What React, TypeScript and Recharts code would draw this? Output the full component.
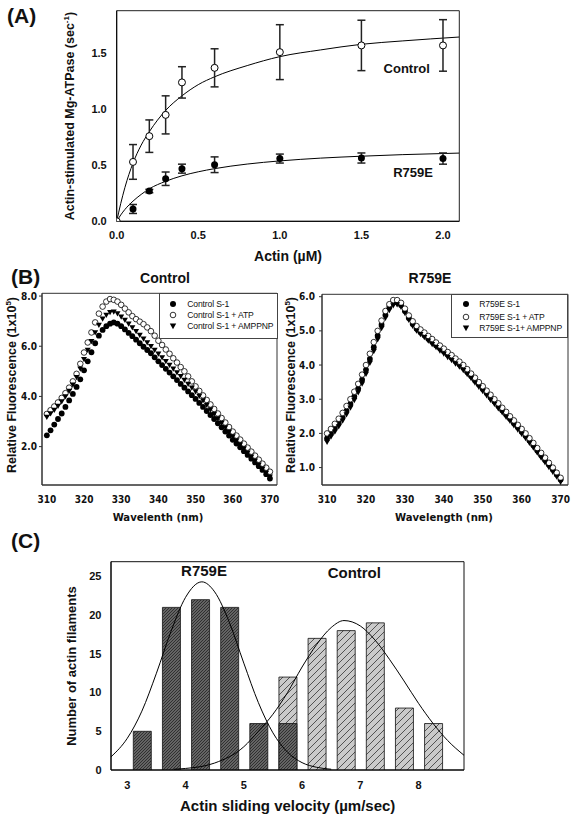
import React from "react";
import { ComposedChart, Line, Scatter, Bar, XAxis, YAxis, ErrorBar, ReferenceArea } from "recharts";

// ---------- (A) actin-activated Mg-ATPase ----------
const actinUM = [0, 0.1, 0.2, 0.3, 0.4, 0.6, 1.0, 1.5, 2.0];
const atpControl = [0, 0.53, 0.76, 0.95, 1.24, 1.37, 1.51, 1.57, 1.57];
const atpControlErr = [0, 0.155, 0.145, 0.17, 0.14, 0.17, 0.245, 0.225, 0.23];
const atpR759E = [0, 0.11, 0.27, 0.38, 0.47, 0.505, 0.56, 0.565, 0.56];
const atpR759EErr = [0, 0.04, 0.015, 0.06, 0.04, 0.07, 0.04, 0.045, 0.05];

// fitted curves
const fitX = [0, 0.025, 0.05, 0.1, 0.15, 0.2, 0.3, 0.4, 0.5, 0.6, 0.8, 1.0, 1.25, 1.5, 1.75, 2.1];
const fitControl = [0, 0.16, 0.3, 0.52, 0.68, 0.8, 0.99, 1.12, 1.22, 1.29, 1.39, 1.47, 1.53, 1.58, 1.61, 1.645];
const fitR759E = [0, 0.057, 0.105, 0.18, 0.24, 0.29, 0.357, 0.406, 0.442, 0.47, 0.511, 0.539, 0.564, 0.581, 0.595, 0.609];

// ---------- (B) intrinsic fluorescence ----------
const wavelength = [
  310, 311, 312, 313, 314, 315, 316, 317, 318, 319,
  320, 321, 322, 323, 324, 325, 326, 327, 328, 329,
  330, 331, 332, 333, 334, 335, 336, 337, 338, 339,
  340, 341, 342, 343, 344, 345, 346, 347, 348, 349,
  350, 351, 352, 353, 354, 355, 356, 357, 358, 359,
  360, 361, 362, 363, 364, 365, 366, 367, 368, 369, 370,
];
const ctlS1 = [
  2.45, 2.65, 2.88, 3.1, 3.32, 3.58, 3.84, 4.1, 4.38, 4.68,
  5.04, 5.4, 5.76, 6.12, 6.42, 6.65, 6.8, 6.9, 6.95, 6.9,
  6.8, 6.67, 6.53, 6.4, 6.26, 6.12, 5.98, 5.85, 5.72, 5.56,
  5.4, 5.25, 5.1, 4.95, 4.8, 4.65, 4.5, 4.35, 4.2, 4.05,
  3.9, 3.74, 3.58, 3.42, 3.26, 3.1, 2.93, 2.77, 2.6, 2.44,
  2.27, 2.12, 1.97, 1.82, 1.67, 1.52, 1.37, 1.22, 1.07, 0.9, 0.73,
];
const ctlATP = [
  3.3, 3.45, 3.6, 3.76, 3.94, 4.13, 4.35, 4.6, 4.9, 5.3,
  5.75, 6.15, 6.55, 6.95, 7.3, 7.58, 7.78, 7.88, 7.85, 7.78,
  7.65, 7.5, 7.35, 7.2, 7.08, 6.98, 6.88, 6.75, 6.6, 6.42,
  6.22, 6.05, 5.87, 5.7, 5.52, 5.35, 5.17, 5.0, 4.8, 4.6,
  4.4, 4.22, 4.04, 3.86, 3.68, 3.5, 3.32, 3.14, 2.96, 2.78,
  2.6, 2.44, 2.28, 2.12, 1.96, 1.8, 1.64, 1.48, 1.32, 1.16, 1.0,
];
const ctlAMPPNP = [
  3.18, 3.32, 3.46, 3.62, 3.8, 4.0, 4.22, 4.47, 4.76, 5.1,
  5.48, 5.85, 6.2, 6.55, 6.85, 7.1, 7.25, 7.35, 7.37, 7.3,
  7.18, 7.05, 6.9, 6.75, 6.6, 6.45, 6.3, 6.15, 6.0, 5.85,
  5.7, 5.55, 5.4, 5.25, 5.1, 4.95, 4.8, 4.65, 4.5, 4.35,
  4.2, 4.02, 3.84, 3.66, 3.48, 3.3, 3.12, 2.94, 2.76, 2.58,
  2.4, 2.24, 2.08, 1.92, 1.76, 1.6, 1.44, 1.28, 1.12, 0.96, 0.8,
];
const mutS1 = [
  1.85, 2.0, 2.15, 2.3, 2.47, 2.66, 2.86, 3.08, 3.31, 3.57,
  3.86, 4.18, 4.52, 4.86, 5.18, 5.47, 5.7, 5.83, 5.84, 5.76,
  5.58, 5.38, 5.2, 5.06, 4.96, 4.87, 4.77, 4.68, 4.58, 4.49,
  4.4, 4.3, 4.21, 4.11, 4.02, 3.92, 3.8, 3.68, 3.55, 3.43,
  3.3, 3.18, 3.05, 2.93, 2.8, 2.68, 2.55, 2.43, 2.3, 2.18,
  2.05, 1.93, 1.79, 1.65, 1.5, 1.36, 1.22, 1.08, 0.94, 0.8, 0.65,
];
const mutATP = [
  2.0, 2.13, 2.28, 2.43, 2.6, 2.8, 3.0, 3.22, 3.45, 3.72,
  4.0, 4.33, 4.67, 5.0, 5.3, 5.58, 5.78, 5.9, 5.9, 5.82,
  5.65, 5.45, 5.28, 5.14, 5.04, 4.95, 4.85, 4.76, 4.66, 4.57,
  4.48, 4.38, 4.29, 4.19, 4.1, 4.0, 3.88, 3.75, 3.63, 3.5,
  3.38, 3.25, 3.13, 3.0, 2.88, 2.75, 2.63, 2.5, 2.38, 2.25,
  2.13, 2.0, 1.86, 1.72, 1.57, 1.43, 1.29, 1.14, 1.0, 0.85, 0.7,
];
const mutAMPPNP = [
  1.75, 1.9, 2.05, 2.2, 2.37, 2.55, 2.75, 2.97, 3.2, 3.45,
  3.74, 4.06, 4.4, 4.75, 5.08, 5.38, 5.6, 5.74, 5.77, 5.7,
  5.52, 5.32, 5.14, 5.0, 4.9, 4.81, 4.71, 4.61, 4.52, 4.42,
  4.33, 4.23, 4.14, 4.04, 3.95, 3.85, 3.73, 3.61, 3.48, 3.36,
  3.23, 3.11, 2.98, 2.86, 2.73, 2.61, 2.48, 2.36, 2.23, 2.11,
  1.98, 1.86, 1.72, 1.58, 1.43, 1.29, 1.15, 1.01, 0.87, 0.73, 0.58,
];

// ---------- (C) sliding velocity histogram ----------
const velocityBins = [3.25, 3.75, 4.25, 4.75, 5.25, 5.75, 6.25, 6.75, 7.25, 7.75, 8.25];
const countR759E = [5, 21, 22, 21, 6, 6, null, null, null, null, null];
const countControl = [null, null, null, null, null, 12, 17, 18, 19, 8, 6];
const gaussR759EX = [2.72, 3.0, 3.25, 3.5, 3.75, 4.0, 4.28, 4.5, 4.75, 5.0, 5.25, 5.5, 5.75, 6.0, 6.25, 6.5];
const gaussR759EY = [1.7, 4.1, 7.6, 12.5, 17.9, 22.3, 24.3, 23.0, 19.1, 13.8, 8.7, 4.8, 2.3, 0.95, 0.35, 0.1];
const gaussControlX = [3.8, 4.0, 4.5, 5.0, 5.25, 5.5, 5.75, 6.0, 6.25, 6.5, 6.72, 7.0, 7.25, 7.5, 7.75, 8.0, 8.25, 8.5, 8.78];
const gaussControlY = [0.1, 0.2, 0.9, 3.0, 5.0, 7.2, 10.0, 13.3, 16.2, 18.4, 19.3, 18.6, 16.8, 14.3, 11.5, 8.6, 6.0, 3.8, 1.9];

const FONT = "'Liberation Sans', Arial, sans-serif";
const NARROW = "'Liberation Sans Narrow', 'DejaVu Sans Condensed', 'Liberation Sans', sans-serif";

function T({ x, y, size, children, rot = false, weight = 700, family = FONT, align = "center", ls = 0 }: any) {
  const tx = align === "center" ? "-50%" : align === "left" ? "0%" : "-100%";
  return (
    <div
      style={{
        position: "absolute",
        left: x,
        top: y,
        transform: `translate(${tx}, -50%)${rot ? " rotate(-90deg)" : ""}`,
        whiteSpace: "nowrap",
        fontSize: size,
        fontWeight: weight,
        fontFamily: family,
        letterSpacing: ls,
        lineHeight: 1,
        color: "#111",
      }}
    >
      {children}
    </div>
  );
}

const openDot = (r: number, sw: number) => (p: any) => (
  <circle cx={p.cx} cy={p.cy} r={r} fill="#fff" stroke="#000" strokeWidth={sw} />
);
const fullDot = (r: number) => (p: any) => <circle cx={p.cx} cy={p.cy} r={r} fill="#000" />;
const triDown = (s: number) => (p: any) => (
  <path d={`M${p.cx - s},${p.cy - s * 0.75} L${p.cx + s},${p.cy - s * 0.75} L${p.cx},${p.cy + s} Z`} fill="#000" />
);

function PanelA() {
  const ctl = actinUM.map((x, i) => ({ x, y: atpControl[i], err: atpControlErr[i] }));
  const mut = actinUM.map((x, i) => ({ x, y: atpR759E[i], err: atpR759EErr[i] }));
  const fitC = fitX.map((x, i) => ({ x, y: fitControl[i] }));
  const fitM = fitX.map((x, i) => ({ x, y: fitR759E[i] }));
  const tick = { fontSize: 11, fontWeight: 700, fill: "#111", fontFamily: FONT };
  return (
    <div style={{ position: "absolute", left: 0, top: 0 }}>
      <ComposedChart width={480} height={250} margin={{ top: 10.7, right: 20.7, left: 0, bottom: 0 }}>
        <XAxis type="number" dataKey="x" domain={[0, 2.1]} allowDataOverflow ticks={[0, 0.5, 1, 1.5, 2]} interval={0}
          tickFormatter={(v: number) => v.toFixed(1)} tick={tick} tickLine={false} tickSize={6} tickMargin={4}
          axisLine={{ stroke: "#000" }} height={28.7} />
        <YAxis type="number" dataKey="y" domain={[0, 1.88]} allowDataOverflow ticks={[0, 0.5, 1, 1.5]} interval={0}
          tickFormatter={(v: number) => v.toFixed(1)} tick={tick} tickLine={false} tickSize={6} tickMargin={4}
          axisLine={{ stroke: "#000" }} width={116.7} />
        <ReferenceArea x1={0} x2={2.1} y1={0} y2={1.88} fill="none" stroke="#222" strokeWidth={1} />
        <Line data={fitC} dataKey="y" type="monotone" stroke="#000" strokeWidth={1} dot={false} isAnimationActive={false} />
        <Line data={fitM} dataKey="y" type="monotone" stroke="#000" strokeWidth={1} dot={false} isAnimationActive={false} />
        <Scatter data={mut} dataKey="y" shape={fullDot(3.5)} isAnimationActive={false}>
          <ErrorBar dataKey="err" direction="y" width={4} stroke="#222" strokeWidth={1.5} />
        </Scatter>
        <Scatter data={ctl} dataKey="y" shape={openDot(3.5, 1)} isAnimationActive={false}>
          <ErrorBar dataKey="err" direction="y" width={4} stroke="#222" strokeWidth={1.5} />
        </Scatter>
      </ComposedChart>
    </div>
  );
}

function FluoPanel({ left, top, width, plotTop, plotRight, yAxisW, yDomain, yTicks, s1, atp, amp, tickMargin }: any) {
  const mk = (arr: number[]) => wavelength.map((x, i) => ({ x, y: arr[i] }));
  const tick = { fontSize: 10, fontWeight: 700, fill: "#111", fontFamily: NARROW };
  return (
    <div style={{ position: "absolute", left, top }}>
      <ComposedChart width={width} height={230} margin={{ top: plotTop, right: plotRight, left: 0, bottom: 0 }}>
        <XAxis type="number" dataKey="x" domain={[308.7, 371.9]} allowDataOverflow ticks={[310, 320, 330, 340, 350, 360, 370]}
          interval={0} tick={tick} tickLine={false} tickSize={0} tickMargin={10.5} axisLine={{ stroke: "#333" }} height={25} />
        <YAxis type="number" dataKey="y" domain={yDomain} allowDataOverflow ticks={yTicks} interval={0}
          tickFormatter={(v: number) => v.toFixed(1)} tick={tick} tickLine={{ stroke: "#333" }} tickSize={3}
          tickMargin={tickMargin} axisLine={{ stroke: "#333" }} width={yAxisW} />
        <ReferenceArea x1={308.7} x2={371.9} y1={yDomain[0]} y2={yDomain[1]} fill="none" stroke="#333" strokeWidth={1} />
        <Scatter data={mk(s1)} dataKey="y" shape={fullDot(2.9)} isAnimationActive={false} />
        <Scatter data={mk(atp)} dataKey="y" shape={openDot(2.8, 0.8)} isAnimationActive={false} />
        <Scatter data={mk(amp)} dataKey="y" shape={triDown(3)} isAnimationActive={false} />
      </ComposedChart>
    </div>
  );
}

function FluoLegend({ left, top, width, height, symX, textX, rows, labels }: any) {
  const syms = [
    <circle cx={5} cy={5} r={3} fill="#000" />,
    <circle cx={5} cy={5} r={2.8} fill="#fff" stroke="#000" strokeWidth={0.8} />,
    <path d="M1.8,2.6 L8.2,2.6 L5,8.2 Z" fill="#000" />,
  ];
  return (
    <>
      <div style={{ position: "absolute", left, top, width, height, border: "1px solid #444", boxSizing: "border-box", background: "#fff" }} />
      {labels.map((l: string, i: number) => (
        <React.Fragment key={l}>
          <svg width={10} height={10} style={{ position: "absolute", left: symX - 5, top: rows[i] - 5 }}>{syms[i]}</svg>
          <T x={textX} y={rows[i]} size={8.6} weight={400} family={FONT} align="left" ls={-0.15}>{l}</T>
        </React.Fragment>
      ))}
    </>
  );
}

function PanelC() {
  const bars = velocityBins.map((x, i) => ({ x, mut: countR759E[i], ctl: countControl[i] }));
  const gM = gaussR759EX.map((x, i) => ({ x, y: gaussR759EY[i] }));
  const gC = gaussControlX.map((x, i) => ({ x, y: gaussControlY[i] }));
  const tick = { fontSize: 11, fontWeight: 700, fill: "#111", fontFamily: FONT };
  const dom: [number, number] = [2.72, 8.78];
  return (
    <div style={{ position: "absolute", left: 0, top: 540 }}>
      <ComposedChart width={500} height={260} data={bars} margin={{ top: 21.7, right: 36, left: 0, bottom: 0 }}>
        <XAxis xAxisId="a" type="number" dataKey="x" domain={dom} allowDataOverflow ticks={[3, 4, 5, 6, 7, 8]} interval={0}
          tick={tick} tickLine={false} tickSize={0} tickMargin={11} axisLine={{ stroke: "#000" }} height={30} />
        <XAxis xAxisId="b" type="number" dataKey="x" domain={dom} allowDataOverflow hide />
        <XAxis xAxisId="c" type="number" dataKey="x" domain={dom} allowDataOverflow hide />
        <YAxis type="number" domain={[0, 26.9]} allowDataOverflow ticks={[0, 5, 10, 15, 20, 25]} interval={0}
          tick={tick} tickLine={false} tickSize={0} tickMargin={9.5} axisLine={{ stroke: "#000" }} width={111} />
        <Bar xAxisId="b" dataKey="ctl" barSize={18} fill="url(#hatchLight)" stroke="#111" strokeWidth={0.8} isAnimationActive={false} />
        <Bar xAxisId="a" dataKey="mut" barSize={18} fill="url(#hatchDark)" stroke="#111" strokeWidth={0.8} isAnimationActive={false} />
        <Line xAxisId="c" data={gM} dataKey="y" type="monotone" stroke="#000" strokeWidth={1} dot={false} isAnimationActive={false} />
        <Line xAxisId="c" data={gC} dataKey="y" type="monotone" stroke="#000" strokeWidth={1} dot={false} isAnimationActive={false} />
        <ReferenceArea xAxisId="a" x1={2.72} x2={8.78} y1={0} y2={26.9} fill="none" stroke="#111" strokeWidth={1} />
      </ComposedChart>
    </div>
  );
}

export default function App() {
  return (
    <div style={{ position: "absolute", left: 0, top: 0, width: 573, height: 817, background: "#fff", overflow: "hidden" }}>
      <svg width={0} height={0} style={{ position: "absolute" }}>
        <defs>
          <pattern id="hatchDark" patternUnits="userSpaceOnUse" width={3} height={3}>
            <rect width={3} height={3} fill="#646464" />
            <path d="M-1,1 l2,-2 M0,3 l3,-3 M2,4 l2,-2" stroke="#2a2a2a" strokeWidth={0.9} />
          </pattern>
          <pattern id="hatchLight" patternUnits="userSpaceOnUse" width={7} height={7}>
            <rect width={7} height={7} fill="#cacaca" />
            <path d="M-1,1 l2,-2 M0,7 l7,-7 M6,8 l2,-2" stroke="#333" strokeWidth={0.8} />
          </pattern>
        </defs>
      </svg>

      <T x={7} y={15} size={21} align="left">(A)</T>
      <PanelA />
      <T x={70} y={116} size={12.5} rot>
        Actin-stimulated Mg-ATPase (sec<sup style={{ fontSize: 8 }}>-1</sup>)
      </T>
      <T x={288} y={256} size={14}>Actin (µM)</T>
      <T x={406.7} y={68.3} size={13}>Control</T>
      <T x={413} y={172.3} size={13}>R759E</T>

      <T x={11} y={276} size={21} align="left">(B)</T>
      <T x={165} y={277.7} size={14}>Control</T>
      <T x={430} y={277.7} size={14}>R759E</T>
      <FluoPanel left={0} top={280} width={290} plotTop={13.3} plotRight={13} yAxisW={42}
        yDomain={[0.47, 8.11]} yTicks={[2, 4, 6, 8]} s1={ctlS1} atp={ctlATP} amp={ctlAMPPNP} tickMargin={2} />
      <FluoPanel left={290} top={280} width={283} plotTop={14.3} plotRight={5} yAxisW={32}
        yDomain={[0.49, 6.07]} yTicks={[1, 2, 3, 4, 5, 6]} s1={mutS1} atp={mutATP} amp={mutAMPPNP} tickMargin={4} />
      <FluoLegend left={159.3} top={293.3} width={119} height={46} symX={173.3} textX={187.3}
        rows={[304.3, 315, 326]} labels={["Control S-1", "Control S-1 + ATP", "Control S-1 + AMPPNP"]} />
      <FluoLegend left={451} top={294.3} width={117.3} height={44} symX={465.7} textX={479.3}
        rows={[304.3, 316.5, 328.3]} labels={["R759E S-1", "R759E S-1 + ATP", "R759E S-1+ AMPPNP"]} />
      <T x={12} y={385} size={12.5} rot>
        Relative Fluorescence (1x10<sup style={{ fontSize: 8 }}>5</sup>)
      </T>
      <T x={291} y={385} size={12.5} rot>
        Relative Fluorescence (1x10<sup style={{ fontSize: 8 }}>5</sup>)
      </T>
      <T x={158} y={518} size={11.2} family={NARROW}>Wavelenth (nm)</T>
      <T x={444} y={518} size={11.2} family={NARROW}>Wavelength (nm)</T>

      <T x={11} y={540} size={21} align="left">(C)</T>
      <PanelC />
      <T x={204} y={570} size={15}>R759E</T>
      <T x={354.3} y={571.7} size={15}>Control</T>
      <T x={71} y={666} size={13} rot>Number of actin filaments</T>
      <T x={287.7} y={805} size={15}>Actin sliding velocity (µm/sec)</T>
    </div>
  );
}
